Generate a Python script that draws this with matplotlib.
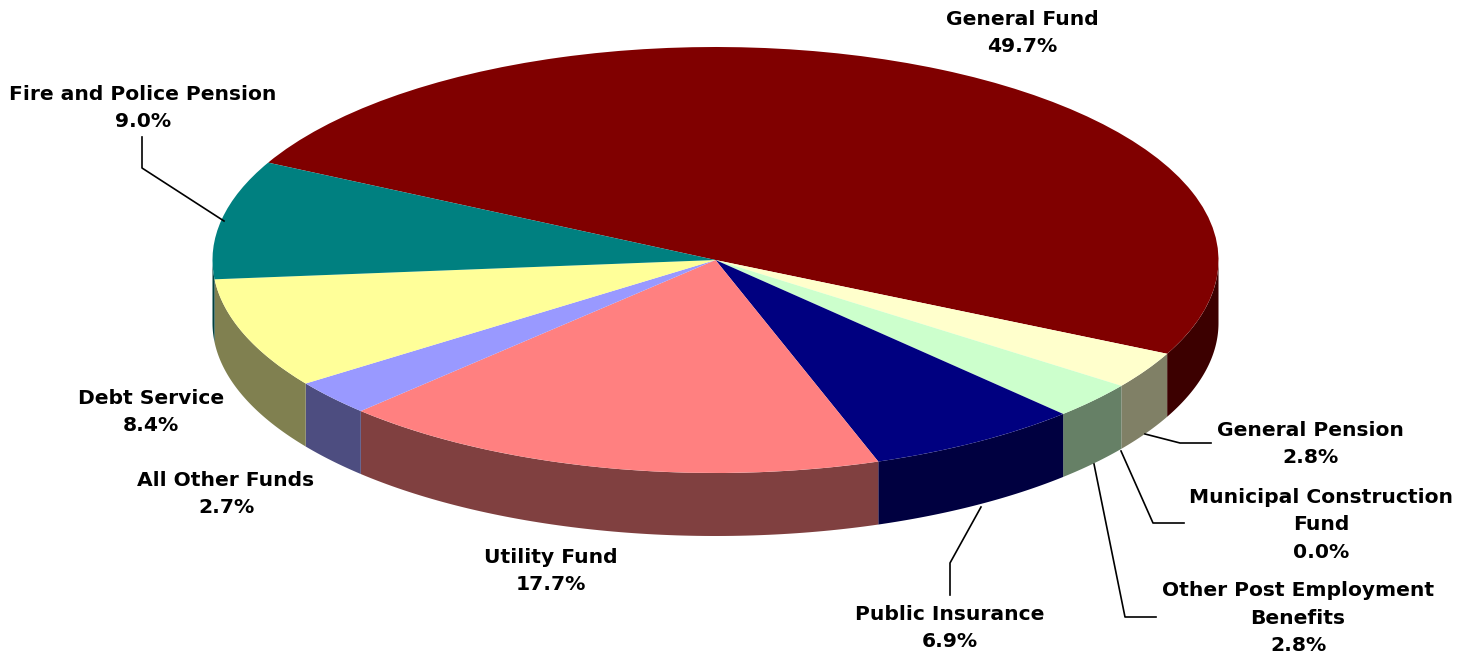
import numpy as np
import matplotlib
matplotlib.use("Agg")
import matplotlib.pyplot as plt

## Data
names = ["General Fund", "General Pension", "Municipal Construction\nFund",
         "Other Post Employment\nBenefits", "Public Insurance", "Utility Fund",
         "All Other Funds", "Debt Service", "Fire and Police Pension"]
shares = [49.7, 2.8, 0.0, 2.8, 6.9, 17.7, 2.7, 8.4, 9.0]
top_colors = ["#800000", "#FFFFCC", "#00FFFF", "#CCFFCC", "#000080",
              "#FF8080", "#9999FF", "#FFFF99", "#008080"]
side_colors = ["#3C0000", "#808066", "#008080", "#668066", "#000040",
               "#804040", "#4D4D80", "#808050", "#004040"]

## Layout in pixels
W, H = 1473, 658
CX, CY = 715.5, 260
RX, RY = 503, 213
DEPTH = 63 / RY
START = 152.8

label_pos = [(1022, 33), (1310, 444), (1321, 525), (1298, 618), (950, 628),
             (551, 571), (226, 494), (151, 412), (143, 108)]
leaders = [[(142, 137), (142, 168), (224, 221)],
           [(1145, 434), (1180, 443), (1211, 443)],
           [(1121, 451), (1153, 523), (1184, 523)],
           [(1094, 464), (1125, 617), (1156, 617)],
           [(981, 507), (950, 563), (950, 595)]]

fig = plt.figure(figsize=(W / 100, H / 100), dpi=100)
ax = fig.add_axes([0, 0, 1, 1])

# top face, one unit is the ellipse radius on each axis
ax.pie(shares, colors=top_colors, startangle=START, counterclock=False,
       radius=1, wedgeprops={"linewidth": 0})
ax.set_aspect("auto")
ax.set_xlim(-CX / RX, (W - CX) / RX)
ax.set_ylim((CY - H) / RY, CY / RY)

# side walls, only the front half of the rim shows
angle = START
for share, color in zip(shares, side_colors):
    end = angle - share * 3.6
    a0, a1 = min(angle, 0), max(end, -180)
    if a0 > a1:
        t = np.radians(np.linspace(a0, a1, 80))
        xs = np.cos(t)
        ys = np.sin(t)
        ax.fill(np.r_[xs, xs[::-1]], np.r_[ys, ys[::-1] - DEPTH], color=color,
                lw=0, zorder=0.5)
    angle = end

# labels and leaders in pixel coordinates
over = fig.add_axes([0, 0, 1, 1])
over.set_xlim(0, W)
over.set_ylim(H, 0)
over.axis("off")
for pts in leaders:
    over.plot(*zip(*pts), color="black", lw=1.2)
for name, share, (x, y) in zip(names, shares, label_pos):
    over.text(x, y, f"{name}\n{share:.1f}%", ha="center", va="center",
              fontsize=14.6, fontweight="bold", linespacing=1.58, color="black")

fig.savefig("out.png", dpi=100)
